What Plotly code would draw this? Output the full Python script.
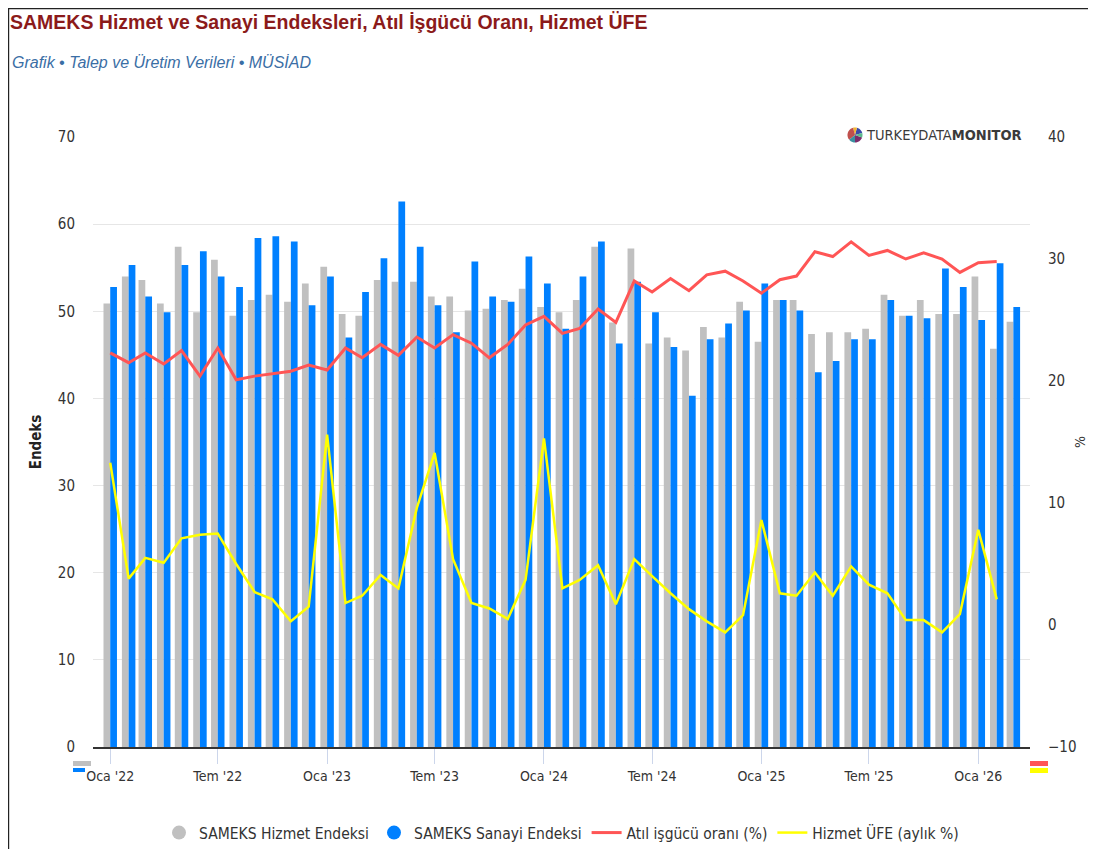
import math
import pandas as pd
import plotly.graph_objects as go

# ---------------- data ----------------
months = pd.date_range("2022-01-01", "2026-03-01", freq="MS").strftime("%Y-%m-%d").tolist()

hizmet_endeksi = [50.9, 54.0, 53.6, 50.9, 57.4, 49.9, 55.9, 49.5, 51.3, 51.9, 51.1, 53.2,
                  55.1, 49.7, 49.5, 53.6, 53.4, 53.4, 51.7, 51.7, 50.1, 50.3, 51.3, 52.6,
                  50.5, 49.9, 51.3, 57.4, 48.7, 57.2, 46.3, 47.0, 45.5, 48.2, 47.0, 51.1,
                  46.5, 51.3, 51.3, 47.4, 47.6, 47.6, 48.0, 51.9, 49.5, 51.3, 49.7, 49.7,
                  54.0, 45.7, 48.8]

sanayi_endeksi = [52.8, 55.3, 51.7, 49.9, 55.3, 56.9, 54.0, 52.8, 58.4, 58.6, 58.0, 50.7,
                  54.0, 47.0, 52.2, 56.1, 62.6, 57.4, 50.7, 47.6, 55.7, 51.7, 51.1, 56.3,
                  53.2, 48.0, 54.0, 58.0, 46.3, 53.4, 49.9, 45.9, 40.3, 46.8, 48.6, 50.1,
                  53.2, 51.3, 50.1, 43.0, 44.3, 46.8, 46.8, 51.3, 49.5, 49.2, 54.9, 52.8,
                  49.0, 55.5, 50.5]

atil_isgucu = [22.3, 21.5, 22.3, 21.4, 22.5, 20.4, 22.7, 20.1, 20.4, 20.6, 20.8, 21.3,
               20.9, 22.7, 21.9, 23.0, 22.1, 23.6, 22.7, 23.8, 23.1, 21.9, 23.0, 24.6,
               25.3, 23.9, 24.3, 25.9, 24.8, 28.2, 27.3, 28.4, 27.4, 28.7, 29.0, 28.2,
               27.2, 28.3, 28.6, 30.6, 30.2, 31.4, 30.3, 30.7, 30.0, 30.5, 30.0, 28.9,
               29.7, 29.8, None]

hizmet_ufe = [13.3, 3.8, 5.5, 5.1, 7.1, 7.4, 7.5, 5.0, 2.7, 2.1, 0.3, 1.5,
              15.6, 1.8, 2.4, 4.1, 3.0, 9.6, 14.1, 5.4, 1.8, 1.35, 0.5, 3.7,
              15.3, 3.0, 3.7, 4.9, 1.7, 5.4, 4.0, 2.6, 1.3, 0.3, -0.6, 0.8,
              8.6, 2.6, 2.4, 4.3, 2.4, 4.8, 3.3, 2.6, 0.4, 0.4, -0.6, 0.9,
              7.8, 2.1, None]

tick_dates = ["2022-01-01", "2022-07-01", "2023-01-01", "2023-07-01", "2024-01-01",
              "2024-07-01", "2025-01-01", "2025-07-01", "2026-01-01"]
tick_labels = ["Oca '22", "Tem '22", "Oca '23", "Tem '23", "Oca '24",
               "Tem '24", "Oca '25", "Tem '25", "Oca '26"]

# ---------------- style ----------------
NARROW = "DejaVu Sans Condensed, Liberation Sans Narrow, Liberation Sans, sans-serif"
TITLEF = "Liberation Sans, Arial, sans-serif"
GRAY = "#C0C0C0"
BLUE = "#0080FF"
RED = "#FF5555"
YELLOW = "#FFFF00"

OFF = 8                      # page offset of the figure (body margin)
W, H = 1080, 841
L, T = 93 - OFF, 137 - OFF   # plot area in figure pixels
R = W - (1030 - OFF)
B = H - (747 - OFF)
PW, PH = W - L - R, H - T - B


def px(xpage):
    return (xpage - OFF - L) / PW


def py(ypage):
    return (H - B - (ypage - OFF)) / PH


fig = go.Figure()

fig.add_trace(go.Bar(x=months, y=hizmet_endeksi, name="SAMEKS Hizmet Endeksi",
                     marker=dict(color=GRAY, line=dict(width=0)), showlegend=False))
fig.add_trace(go.Bar(x=months, y=sanayi_endeksi, name="SAMEKS Sanayi Endeksi",
                     marker=dict(color=BLUE, line=dict(width=0)), showlegend=False))
fig.add_trace(go.Scatter(x=months, y=atil_isgucu, name="Atıl işgücü oranı (%)",
                         mode="lines", line=dict(color=RED, width=3), yaxis="y2",
                         legendrank=3))
fig.add_trace(go.Scatter(x=months, y=hizmet_ufe, name="Hizmet ÜFE (aylık %)",
                         mode="lines", line=dict(color=YELLOW, width=2.5), yaxis="y2",
                         legendrank=4))
fig.add_trace(go.Scatter(x=[None], y=[None], name="SAMEKS Hizmet Endeksi", mode="markers",
                         marker=dict(color=GRAY, size=14, symbol="circle"), legendrank=1))
fig.add_trace(go.Scatter(x=[None], y=[None], name="SAMEKS Sanayi Endeksi", mode="markers",
                         marker=dict(color=BLUE, size=14, symbol="circle"), legendrank=2))

# ---------------- decorations ----------------
shapes = []
shapes.append(dict(type="line", xref="paper", yref="paper", x0=px(OFF), x1=px(OFF + W),
                   y0=py(OFF + 0.6), y1=py(OFF + 0.6), line=dict(color="#222", width=1.2)))
shapes.append(dict(type="line", xref="paper", yref="paper", x0=px(OFF + 0.6), x1=px(OFF + 0.6),
                   y0=py(OFF), y1=py(OFF + H), line=dict(color="#222", width=1.2)))
for (x0, x1, y0, y1, c) in [(73, 91, 761, 766, GRAY), (73, 85, 768, 772, BLUE),
                            (1030, 1048, 761, 766, RED), (1030, 1048, 768, 773, YELLOW)]:
    shapes.append(dict(type="rect", xref="paper", yref="paper", x0=px(x0), x1=px(x1),
                       y0=py(y1), y1=py(y0), fillcolor=c, line=dict(width=0)))

cx, cy, rr = 855, 135, 7.5
wedges = [(15, 75, "#3b4aa8"), (75, 105, "#f2b632"), (105, 220, "#c0504d"),
          (220, 270, "#3a8fa0"), (270, 340, "#7b2d6b"), (340, 375, "#5bb98c")]
for a0, a1, col in wedges:
    pts = [(cx, cy)]
    n = max(3, int((a1 - a0) / 5))
    for k in range(n + 1):
        a = math.radians(a0 + (a1 - a0) * k / n)
        pts.append((cx + rr * math.cos(a), cy - rr * math.sin(a)))
    path = "M " + " L ".join(f"{px(x):.5f},{py(y):.5f}" for x, y in pts) + " Z"
    shapes.append(dict(type="path", xref="paper", yref="paper", path=path,
                       fillcolor=col, line=dict(width=0)))

annotations = [
    dict(xref="paper", yref="paper", x=px(10), y=py(62), xanchor="left", yanchor="middle",
         text="<i>Grafik • Talep ve Üretim Verileri • MÜSİAD</i>", showarrow=False,
         font=dict(family=TITLEF, size=16, color="#3A6EA5")),
    dict(xref="paper", yref="paper", x=px(864), y=py(135), xanchor="left", yanchor="middle",
         text="TURKEYDATA<b>MONITOR</b>", showarrow=False,
         font=dict(family=NARROW, size=14.5, color="#3a3a3a")),
]

fig.update_layout(
    width=W, height=H, autosize=False,
    margin=dict(l=L, r=R, t=T, b=B, pad=0, autoexpand=False),
    paper_bgcolor="white", plot_bgcolor="white",
    font=dict(family=NARROW, size=15, color="#333333"),
    title=dict(text="<b>SAMEKS Hizmet ve Sanayi Endeksleri, Atıl İşgücü Oranı, Hizmet ÜFE</b>",
               xref="container", yref="container", x=(10 - OFF) / W, y=1 - (22 - OFF) / H,
               xanchor="left", yanchor="middle",
               font=dict(family=TITLEF, size=19.5, color="#8B1A1A")),
    barmode="group", bargap=0.19, bargroupgap=0.0,
    xaxis=dict(type="date", range=["2021-12-03", "2026-03-29"], automargin=False,
               tickmode="array", tickvals=tick_dates, ticktext=tick_labels,
               showgrid=False, zeroline=False,
               showline=True, linecolor="#333333", linewidth=2,
               ticks="outside", ticklen=15, tickwidth=1, tickcolor="#ccd6eb",
               tickfont=dict(family=NARROW, size=14, color="#333333")),
    yaxis=dict(range=[0, 70], dtick=10, showgrid=True, gridcolor="#e6e6e6", gridwidth=1,
               zeroline=False, showline=False, automargin=False,
               ticks="outside", ticklen=14, tickcolor="rgba(0,0,0,0)",
               tickfont=dict(family=NARROW, size=15, color="#333333"),
               title=dict(text="<b>Endeks</b>", standoff=12,
                          font=dict(family=NARROW, size=15, color="#222222"))),
    yaxis2=dict(range=[-10, 40], dtick=10, overlaying="y", side="right",
                showgrid=False, zeroline=False, showline=False, automargin=False,
                ticks="outside", ticklen=14, tickcolor="rgba(0,0,0,0)",
                tickfont=dict(family=NARROW, size=15, color="#333333"),
                title=dict(text="%", standoff=10,
                           font=dict(family=NARROW, size=14, color="#333333"))),
    legend=dict(orientation="h", x=0.5, xanchor="center", y=py(833), yanchor="middle",
                font=dict(family=NARROW, size=15.5, color="#333333"), itemwidth=30,
                bgcolor="rgba(0,0,0,0)"),
    shapes=shapes,
    annotations=annotations,
)

fig.write_html("out.html")
